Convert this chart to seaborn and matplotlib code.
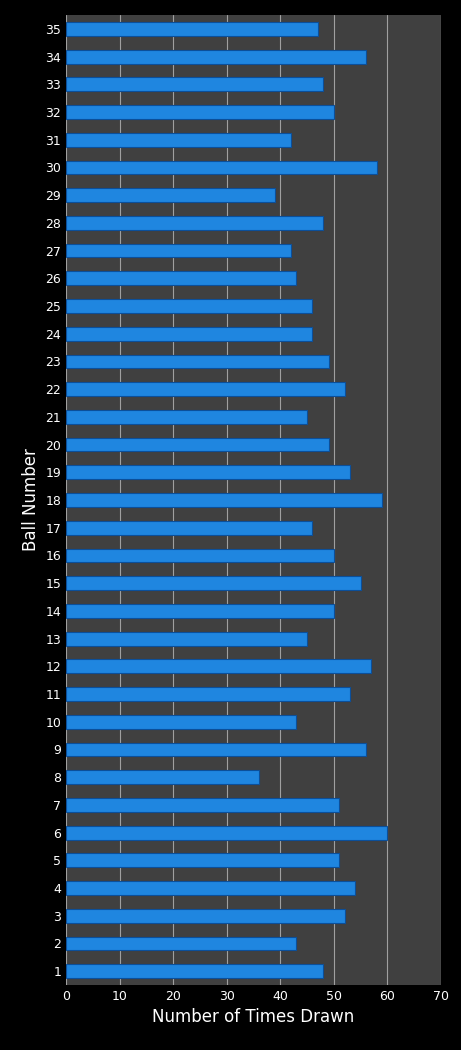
import numpy as np
import pandas as pd
import matplotlib.pyplot as plt
import seaborn as sns

balls = [str(i) for i in range(35, 0, -1)]
counts = [47, 56, 48, 50, 42, 58, 39, 48, 42, 43, 46, 46, 49, 52, 45, 49, 53, 59,
          46, 50, 55, 50, 45, 57, 53, 43, 56, 36, 51, 60, 51, 54, 52, 43, 48]
df = pd.DataFrame({'ball': balls, 'count': counts})

sns.set_style("dark")
plt.rcParams['font.family'] = ['DejaVu Sans']

fig = plt.figure(figsize=(4.61, 10.5), dpi=100, facecolor='black')
ax = fig.add_axes([66/461, 65/1050, 375/461, 970/1050])
ax.set_facecolor('#404040')

sns.barplot(data=df, x='count', y='ball', orient='h', color='#1f86e0',
            width=0.5, edgecolor='#0b4f9a', linewidth=0.8, saturation=1, ax=ax)

ax.set_xlim(0, 70)
ax.set_xticks(range(0, 71, 10))
ax.grid(axis='x', color='#a0a0a0', linewidth=0.8)
ax.grid(axis='y', visible=False)
ax.set_axisbelow(True)
for s in ax.spines.values():
    s.set_visible(False)
ax.tick_params(colors='white', labelsize=9, length=0)
ax.set_xlabel('Number of Times Drawn', color='white', fontsize=12)
ax.set_ylabel('Ball Number', color='white', fontsize=12)

fig.savefig('out.png', dpi=100, facecolor='black')
